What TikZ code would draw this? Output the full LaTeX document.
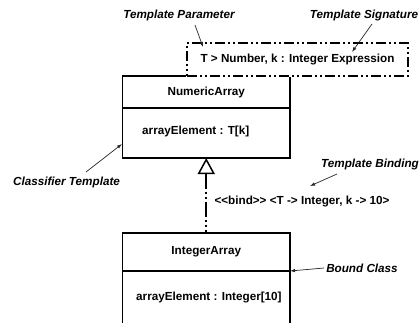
\documentclass[tikz,border=0pt]{standalone}
\usepackage{fontspec}
\setmainfont{Liberation Sans}[Ligatures=TeXOff]
\usetikzlibrary{arrows.meta,positioning}

\begin{document}
\begin{tikzpicture}[x=1pt,y=-1pt,font=\fontsize{11.7}{14}\selectfont\bfseries,
        classpart/.style={draw,line width=1.8pt,minimum width=167.5pt,inner sep=0pt,outer sep=0pt},
        sigbox/.style={draw,line width=1.8pt,minimum width=221pt,minimum height=33pt,inner sep=0pt,
            dash pattern=on 10pt off 3pt on 2pt off 3pt on 2pt off 3pt,fill=white,
            preaction={draw=white,solid}},
        note/.style={font=\fontsize{11.7}{14}\selectfont\bfseries\itshape,inner sep=2pt},
        pointer/.style={draw=black!85,line width=0.7pt,-{Latex[length=5pt,width=3.5pt]}},
        bindline/.style={line width=1.8pt,dash pattern=on 15pt off 3pt on 2pt off 3pt on 2pt off 3pt,
            {Triangle[open,length=16pt,width=17pt,line width=1.5pt]}-}]
        \clip (0,0) rectangle (420,322);

        % template class
        \node[classpart,minimum height=32pt] (numName) at (206.25,92) {NumericArray};
        \node[classpart,minimum height=50pt,below=0pt of numName] (numAttr) {};
        \node[anchor=west,inner sep=0pt] (numElem) at (142,131) {arrayElement : T[k]};

        % signature box sits over the class corner
        \node[sigbox] (sig) at (297.5,59.5) {T > Number, k : Integer Expression};

        % bound class
        \node[classpart,minimum height=38pt] (intName) at (206.25,252) {IntegerArray};
        \node[classpart,minimum height=80pt,below=0pt of intName] (intAttr) {};
        \node[anchor=west,inner sep=0pt] (intElem) at (136,297) {arrayElement : Integer[10]};

        \draw[bindline] (numAttr.south) -- (intName.north);
        \node (bindTxt) at (302,201) {<<bind>> <T -> Integer, k -> 10>};

        % notes
        \node[note] (paramLbl) at (179,15) {Template Parameter};
        \node[note] (sigLbl) at (364,15) {Template Signature};
        \node[note] (tmplLbl) at (66.5,182) {Classifier Template};
        \node[note] (bindLbl) at (370,164) {Template Binding};
        \node[note] (boundLbl) at (362,268) {Bound Class};

        \coordinate (paramFrom) at (195,25);
        \coordinate (paramTo) at (203,47);
        \coordinate (sigFrom) at (372,24);
        \coordinate (sigTo) at (352,52);
        \coordinate (tmplFrom) at (86,172);
        \coordinate (tmplTo) at (122,144);
        \coordinate (bindFrom) at (337,174);
        \coordinate (bindTo) at (310,186);

        \draw[pointer] (paramFrom) -- (paramTo);
        \draw[pointer] (sigFrom) -- (sigTo);
        \draw[pointer] (tmplFrom) -- (tmplTo);
        \draw[pointer] (bindFrom) -- (bindTo);
        \draw[pointer] (boundLbl.west) -- (intName.south east);

    \end{tikzpicture}
\end{document}
